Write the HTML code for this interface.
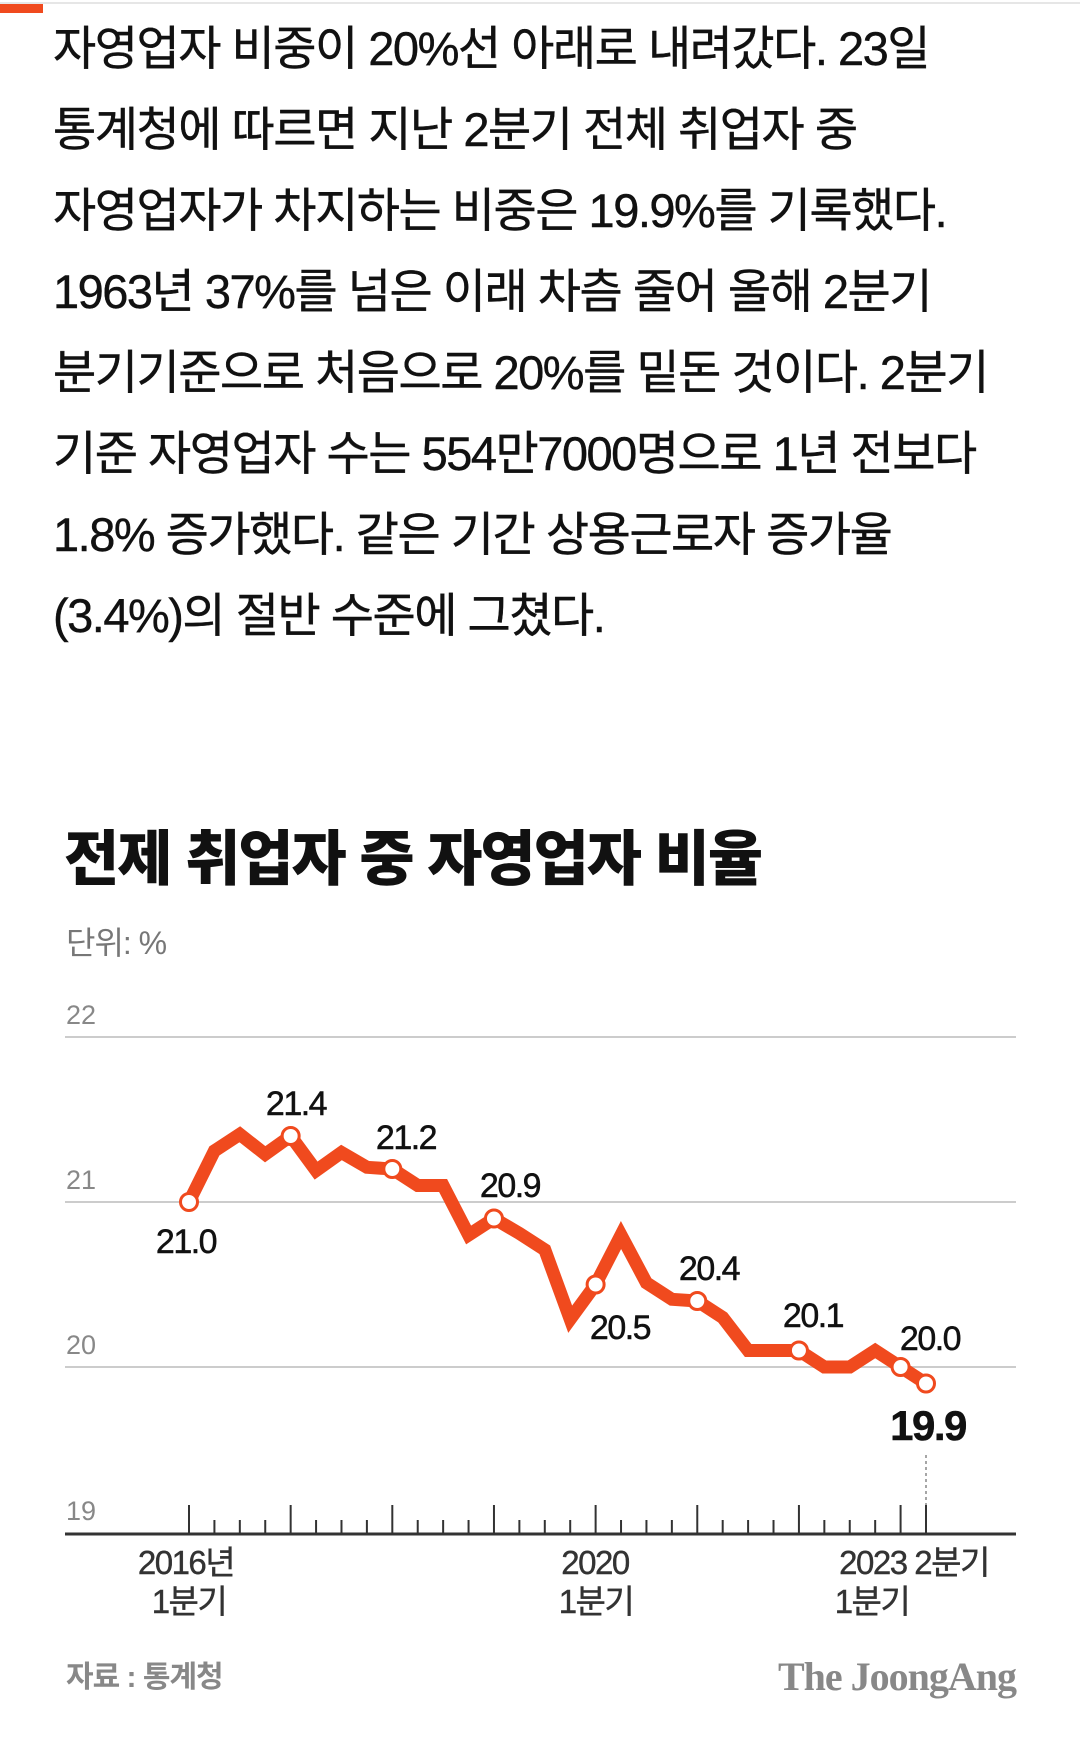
<!DOCTYPE html>
<html><head><meta charset="utf-8"><style>
body{margin:0;width:1080px;height:1741px;background:#fff;position:relative;overflow:hidden;font-family:"Liberation Sans","Noto Sans CJK KR",sans-serif}
.topline{position:absolute;left:0;top:2px;width:1080px;height:2px;background:#e6e6e6}
.red{position:absolute;left:0;top:4px;width:43px;height:9px;background:#f04a1e}
.p{position:absolute;left:53px;top:8px;font-size:47px;line-height:81px;color:#111;letter-spacing:-1.5px;white-space:nowrap;-webkit-text-stroke:0.4px #111}
</style></head><body>
<div class="topline"></div><div class="red"></div>
<div class="p">자영업자 비중이 20%선 아래로 내려갔다. 23일<br>통계청에 따르면 지난 2분기 전체 취업자 중<br>자영업자가 차지하는 비중은 19.9%를 기록했다.<br>1963년 37%를 넘은 이래 차츰 줄어 올해 2분기<br>분기기준으로 처음으로 20%를 밑돈 것이다. 2분기<br>기준 자영업자 수는 554만7000명으로 1년 전보다<br>1.8% 증가했다. 같은 기간 상용근로자 증가율<br>(3.4%)의 절반 수준에 그쳤다.</div>
<svg width="1080" height="1741" style="position:absolute;left:0;top:0" font-family="Liberation Sans, Noto Sans CJK KR, sans-serif">
<text x="64" y="880" font-size="60" font-weight="900" fill="#111" letter-spacing="-2">전제 취업자 중 자영업자 비율</text>
<text x="66" y="954" font-size="32" fill="#777" letter-spacing="-1">단위: %</text>
<g stroke="#ccc" stroke-width="2"><line x1="65" y1="1037" x2="1016" y2="1037"/><line x1="65" y1="1202" x2="1016" y2="1202"/><line x1="65" y1="1367" x2="1016" y2="1367"/></g>
<g font-size="27" fill="#888"><text x="66" y="1024">22</text><text x="66" y="1189">21</text><text x="66" y="1354">20</text><text x="66" y="1520">19</text></g>
<line x1="65" y1="1534" x2="1016" y2="1534" stroke="#333" stroke-width="3"/>
<g stroke="#333" stroke-width="2" id="ticks"></g>
<line x1="926" y1="1455" x2="926" y2="1505" stroke="#888" stroke-width="1.5" stroke-dasharray="3,3"/>
<polyline id="ln" fill="none" stroke="#f04a1e" stroke-width="13" stroke-linejoin="miter" points=""/>
<g id="mk" fill="#fff" stroke="#f04a1e" stroke-width="3"></g>
<g font-size="34" fill="#111" text-anchor="middle" letter-spacing="-1.5" stroke="#111" stroke-width="0.5">
<text x="186" y="1253">21.0</text><text x="296" y="1115">21.4</text><text x="406" y="1149">21.2</text><text x="510" y="1197">20.9</text><text x="620" y="1339">20.5</text><text x="709" y="1280">20.4</text><text x="813" y="1327">20.1</text><text x="930" y="1350">20.0</text>
<text x="928" y="1440" font-size="42" font-weight="bold">19.9</text></g>
<g font-size="33" fill="#333" text-anchor="middle" letter-spacing="-1.5" stroke="#333" stroke-width="0.4">
<text x="186" y="1574">2016년</text><text x="189" y="1613">1분기</text>
<text x="595" y="1574">2020</text><text x="596" y="1613">1분기</text>
<text x="914" y="1574">2023 2분기</text><text x="872" y="1613">1분기</text></g>
<text x="66" y="1687" font-size="30" font-weight="bold" fill="#888" letter-spacing="-1">자료 : 통계청</text>
<text x="1016" y="1690" font-size="40" font-weight="bold" fill="#888" text-anchor="end" font-family="Liberation Serif, serif" letter-spacing="-1">The JoongAng</text>
</svg>
<script>
var v=[21.0,21.31,21.41,21.29,21.4,21.19,21.3,21.21,21.2,21.1,21.1,20.8,20.9,20.81,20.71,20.29,20.5,20.8,20.51,20.41,20.4,20.3,20.1,20.1,20.1,20.0,20.0,20.1,20.0,19.9];
var x0=189,dx=(926-189)/29,pts=[],ns="http://www.w3.org/2000/svg";
var mk=document.getElementById('mk'),tk=document.getElementById('ticks');
var marks=[0,4,8,12,16,20,24,28,29];
for(var i=0;i<30;i++){var x=x0+i*dx,y=1202-(v[i]-21)*165;pts.push(x.toFixed(1)+','+y.toFixed(1));
var t=document.createElementNS(ns,'line');var major=(i%4==0||i==29);t.setAttribute('x1',x);t.setAttribute('x2',x);t.setAttribute('y1',major?1505:1520);t.setAttribute('y2',1534);tk.appendChild(t);
if(marks.indexOf(i)>=0){var c=document.createElementNS(ns,'circle');c.setAttribute('cx',x);c.setAttribute('cy',y);c.setAttribute('r',8.5);mk.appendChild(c);}}
document.getElementById('ln').setAttribute('points',pts.join(' '));
</script>
</body></html>
